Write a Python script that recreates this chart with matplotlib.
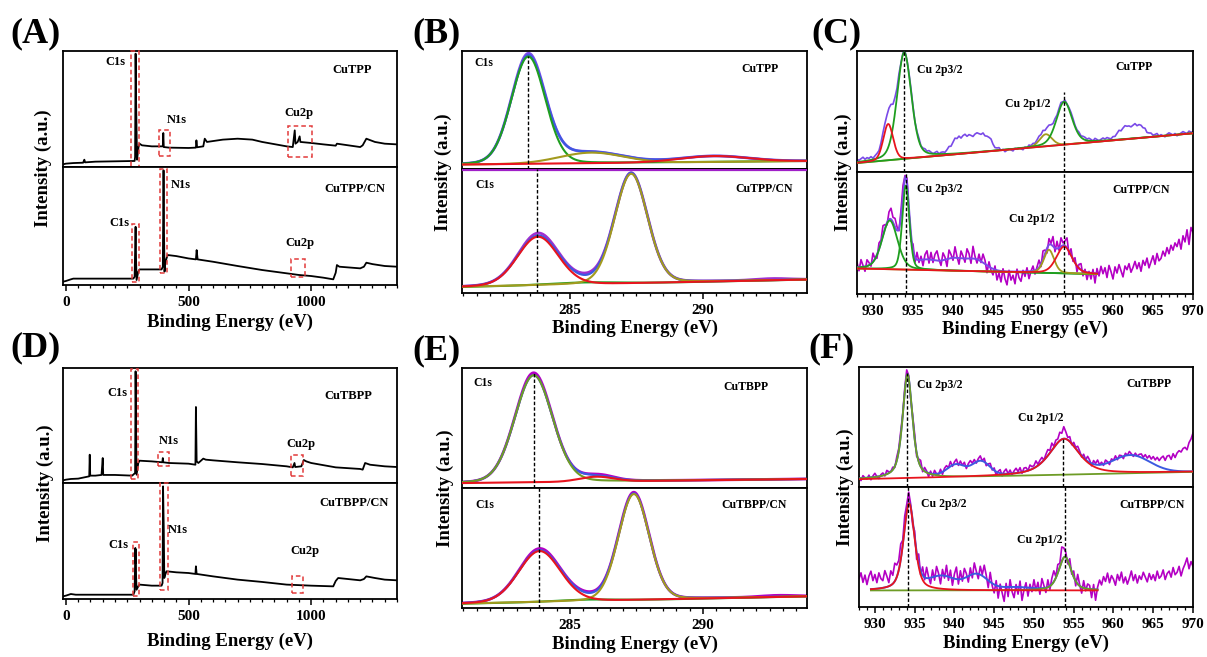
import numpy as np
import matplotlib
matplotlib.use("Agg")
import matplotlib.pyplot as plt
from matplotlib.patches import Rectangle
from matplotlib.ticker import MultipleLocator

plt.rcParams["font.family"] = "Liberation Serif"
plt.rcParams["font.weight"] = "bold"

# ---------------- survey spectra (intensity scaled to sub-panel height) ----------------
cutpp_e = [-12, 0, 30, 70, 75, 78, 120, 200, 280, 282, 284, 286, 290, 296, 300, 310, 350, 395, 397, 399,
           420, 500, 530, 532, 535, 560, 566, 575, 640, 700, 760, 800, 900, 925, 933, 936, 945, 953, 956, 1000,
           1050, 1100, 1105, 1200, 1210, 1225, 1260, 1300, 1350]
cutpp_i = [0.023, 0.029, 0.034, 0.037, 0.063, 0.040, 0.046, 0.049, 0.052, 0.086, 0.977, 0.575, 0.063, 0.172,
           0.201, 0.187, 0.178, 0.178, 0.293, 0.172, 0.167, 0.164, 0.167, 0.230, 0.170, 0.178, 0.244, 0.216,
           0.236, 0.244, 0.236, 0.216, 0.178, 0.172, 0.316, 0.201, 0.216, 0.264, 0.216, 0.207, 0.195, 0.184,
           0.201, 0.172, 0.187, 0.244, 0.216, 0.201, 0.195]

cutpp_cn_e = [-12, 0, 20, 30, 100, 200, 275, 280, 284, 286, 288, 295, 300, 350, 390, 395, 398, 400, 402, 405,
              410, 415, 450, 500, 530, 533, 537, 600, 700, 800, 900, 950, 1000, 1050, 1090, 1100, 1105, 1115,
              1200, 1215, 1225, 1250, 1300, 1350]
cutpp_cn_i = [0.028, 0.034, 0.048, 0.054, 0.054, 0.054, 0.054, 0.070, 0.493, 0.211, 0.042, 0.113, 0.132,
              0.132, 0.132, 0.155, 0.972, 0.437, 0.113, 0.183, 0.225, 0.254, 0.245, 0.225, 0.217, 0.296,
              0.217, 0.197, 0.161, 0.127, 0.099, 0.085, 0.076, 0.062, 0.048, 0.104, 0.169, 0.155, 0.141,
              0.155, 0.189, 0.177, 0.161, 0.155]

cutbpp_e = [-12, 0, 20, 50, 95, 97, 99, 120, 145, 150, 152, 200, 270, 282, 284, 286, 288, 295, 300, 350,
            393, 395, 397, 420, 500, 528, 530, 533, 540, 560, 570, 600, 700, 800, 900, 925, 932, 935, 960, 970,
            980, 1000, 1100, 1200, 1210, 1220, 1240, 1300, 1350]
cutbpp_i = [0.023, 0.029, 0.035, 0.038, 0.058, 0.246, 0.064, 0.064, 0.070, 0.217, 0.070, 0.070, 0.064,
            0.087, 0.971, 0.464, 0.072, 0.174, 0.194, 0.188, 0.180, 0.217, 0.180, 0.174, 0.168, 0.159,
            0.661, 0.188, 0.174, 0.212, 0.203, 0.197, 0.180, 0.165, 0.145, 0.136, 0.174, 0.139, 0.145,
            0.200, 0.188, 0.174, 0.136, 0.122, 0.116, 0.174, 0.159, 0.145, 0.139]

cutbpp_cn_e = [-12, 0, 20, 40, 100, 200, 275, 280, 283, 284, 285, 286, 288, 295, 300, 350, 390, 394, 396,
               399, 401, 405, 410, 450, 500, 528, 530, 533, 600, 700, 800, 900, 1000, 1090, 1100, 1110, 1200,
               1215, 1225, 1260, 1300, 1350]
cutbpp_cn_i = [0.023, 0.029, 0.043, 0.037, 0.037, 0.037, 0.037, 0.066, 0.440, 0.310, 0.425, 0.200, 0.080,
               0.109, 0.124, 0.115, 0.115, 0.138, 0.971, 0.598, 0.181, 0.210, 0.239, 0.230, 0.224, 0.216,
               0.282, 0.216, 0.195, 0.167, 0.147, 0.124, 0.115, 0.109, 0.155, 0.181, 0.161, 0.172, 0.195,
               0.181, 0.167, 0.161]

# ---------------- C1s fits: background ends, peak centre / height / FWHM / lorentz share ----------------
b_top_bg = [0.034, 0.064]
b_top_pos = [283.44, 285.8, 290.4]
b_top_height = [0.913, 0.09, 0.05]
b_top_fwhm = [1.5, 2.8, 3.0]
b_top_eta = [0.1, 0.0, 0.0]
b_top_misfit = [[283.45], [0.015], [1.2]]

b_bot_bg = [0.049, 0.108]
b_bot_pos = [283.8, 285.5, 287.3]
b_bot_height = [0.39, 0.015, 0.88]
b_bot_fwhm = [1.8, 3.0, 1.45]
b_bot_eta = [0.1, 0.0, 0.1]
b_bot_misfit = [[283.9, 285.7, 292.6], [0.02, 0.015, 0.012], [1.5, 1.0, 1.5]]

e_top_bg = [0.041, 0.075]
e_top_pos = [283.64, 286.0]
e_top_height = [0.892, 0.04]
e_top_fwhm = [1.67, 1.5]
e_top_eta = [0.1, 0.0]
e_top_misfit = [[283.64, 286.2], [0.02, 0.01], [1.2, 1.0]]

e_bot_bg = [0.036, 0.097]
e_bot_pos = [283.86, 285.6, 287.4]
e_bot_height = [0.425, 0.012, 0.883]
e_bot_fwhm = [1.85, 2.5, 1.36]
e_bot_eta = [0.1, 0.0, 0.1]
e_bot_misfit = [[283.9, 285.7, 287.4, 292.8], [0.015, 0.01, 0.01, 0.012], [1.5, 1.0, 1.2, 1.5]]

# ---------------- Cu 2p fits ----------------
c_top_bg = [0.074, 0.320]
c_top_pos = [931.9, 933.9, 951.6, 953.9]
c_top_height = [0.30, 0.88, 0.10, 0.355]
c_top_fwhm = [1.45, 2.1, 1.8, 2.3]
c_top_eta = [0.2, 0.3, 0.2, 0.3]
c_top_sat = [[940.6, 942.3, 944.0, 961.5, 963.3], [0.11, 0.12, 0.12, 0.08, 0.09], [1.8, 2.0, 1.8, 2.0, 2.0]]

c_bot_bg = [0.209, 0.163]
c_bot_pos = [932.1, 934.1, 952.0, 953.9]
c_bot_height = [0.40, 0.69, 0.19, 0.22]
c_bot_fwhm = [2.3, 1.05, 1.5, 2.3]
c_bot_eta = [0.3, 0.3, 0.3, 0.3]
c_bot_sat = [[936.8, 940.0, 942.8], [0.07, 0.09, 0.09], [3.0, 3.0, 3.0]]

f_top_bg = [0.064, 0.126]
f_top_pos = [934.1, 953.8]
f_top_height = [0.865, 0.30]
f_top_fwhm = [1.45, 4.4]
f_top_eta = [0.6, 0.6]
f_top_sat = [[940.2, 943.3, 962.2], [0.095, 0.12, 0.14], [2.6, 2.6, 5.5]]

f_bot_bg = [0.138, 0.138]
f_bot_pos = [934.3, 953.9]
f_bot_height = [0.726, 0.28]
f_bot_fwhm = [1.65, 1.86]
f_bot_eta = [0.5, 0.5]
f_bot_sat = [[938.5, 942.8, 947.5], [0.11, 0.13, 0.025], [4.0, 3.2, 4.5]]

# raw-minus-model residuals on a 0.25 eV grid from 928 to 970 eV (x 0.01)
c_top_resid = [2, 1, 2, 3, 1, 2, 1, 2, 0, 1, 1, 0, 1, 2, 1, 0, 1, 2, 0, 1, 0, 1, -1, 0,
               1, 0, 1, 2, 1, 0, 1, 2, 0, 1, 2, 1, 2, 1, 0, 1, 2, 0, 1, 1, 0, 1, 2, 0,
               1, 2, 0, 1, -1, 1, 2, 0, 1, 0, -1, 1, 2, 1, 0, 1, -1, 0, 1, 2, 0, -1, 0, 1,
               -1, 0, -2, -1, 0, -1, -2, 0, -1, 0, -1, -2, 0, -1, 1, 0, 1, 0, 1, 2, 1, 2, 0, 1,
               2, 1, 0, 1, 0, 1, 2, 0, 1, 0, 1, 2, 2, 1, 1, 2, 1, 2, 2, 1, 2, 1, 0, 2,
               1, 0, 1, 2, 1, 2, 1, 0, 1, 0, 1, 2, 0, 1, 2, 1, 1, 0, 1, 2, 0, 1, 1, 0,
               1, -1, 0, 1, 0, 1, 2, 0, 1, 0, -1, 1, 2, 1, 0, 1, -1, 0, 1, 2, 1, 0, 2, 1, 1]
c_bot_resid = [4, -3, 6, 1, -4, 5, 2, -2, 7, 0, -3, 5, 2, 8, 3, -2, 6, 9, 4, 7, 3, -2, 5, 8,
               2, 4, -3, -6, 5, -4, 6, -2, 3, -5, 4, 7, -3, 6, -2, 5, 8, 1, -4, 6, 2, -6, 7, 3,
               -2, 9, 1, -5, 6, 2, -3, 8, 4, -4, 10, 2, -3, 5, -1, 7, 3, -6, 4, -2, -5, 3, -8, -2,
               -9, 2, -6, -11, 1, -7, -3, -10, 2, -5, -8, 1, -4, 3, -6, 0, 4, -3, 2, 6, -2, 7, 3, -4,
               5, 1, 8, -3, 6, -2, 7, 2, 4, 8, -3, 5, -2, 4, -5, 3, 5, -4, 2, -6, 1, -5, 3, -8,
               4, -2, 6, 0, 5, -3, 7, 2, -4, 6, 1, 8, 3, -2, 7, 4, 9, 2, 6, 11, 5, 10, 3, 12,
               8, 14, 6, 11, 16, 9, 18, 12, 14, 20, 16, 23, 18, 25, 21, 27, 24, 30, 22, 33, 28, 38, 26, 40, 36]
f_top_resid = [1, -2, 2, 0, -1, 2, -2, 1, 3, 0, -2, 1, 2, -1, 3, 1, 0, 2, -1, 3, 2, 4, 1, 3,
               5, 2, -2, 3, 4, -3, 2, 5, -2, 3, 1, -3, 2, -2, 3, 0, -1, 3, -2, 2, 3, 0, 4, -1,
               2, 4, -1, 3, 0, 3, -2, 2, 4, 1, 3, -1, 2, 4, 0, 3, -2, 1, 3, -1, 2, -3, 1, 3,
               -2, 2, 4, 0, 3, -1, 2, 4, 1, 4, -1, 3, 3, 0, 4, 2, 2, 5, 1, 3, 4, 0, 3, 5,
               2, 6, 1, 4, 3, 7, 5, 10, 6, 2, 4, -1, 3, 1, 4, 2, -1, 3, 0, 4, 2, -2, 3, 1,
               4, 0, 2, -1, 3, 1, -2, 2, 0, 3, -1, 2, 1, -2, 2, 0, 3, 1, -1, 2, 0, 2, 3, 1,
               4, 2, 5, 3, 6, 4, 7, 5, 8, 10, 7, 11, 12, 9, 14, 11, 15, 17, 16, 19, 20, 18, 24, 27, 32]
f_bot_resid = [9, 14, 6, 12, 4, 11, 15, 7, 12, 5, 13, 8, 6, 14, 9, 3, 12, 7, 15, 10, 8, 13, 4, 10,
               6, 9, 2, -4, 5, -6, 8, -3, 7, -2, 9, 1, -5, 6, -3, 8, 2, -7, 5, -2, 9, -3, 6, -6,
               4, 10, -4, 7, -2, 8, 3, -5, 6, -3, 9, 2, -4, 7, 1, 10, 3, -6, 8, -2, -7, 4, -10, 2,
               -5, -12, 3, -8, 6, -4, -9, 2, -6, 5, -11, -2, 4, -7, 3, -3, 7, -2, 5, -5, 8, 2, -4, 6,
               -3, 5, 9, 1, 7, 3, 12, 8, 4, -3, 6, -2, 5, -4, 8, 1, -5, 6, -2, 4, 3, -7, 4, -9,
               2, 8, 4, 11, 7, 14, 6, 12, 9, 4, 13, 8, 15, 6, 11, 5, 10, 16, 8, 13, 6, 12, 9, 15,
               11, 7, 14, 9, 13, 8, 16, 10, 12, 17, 9, 14, 16, 11, 19, 13, 15, 20, 12, 18, 22, 27, 18, 24, 20]

# ---------------- colours ----------------
RED = "#e8141e"
GREEN = "#1f9e1f"
OLIVE = "#a39a1e"
OLIVE_GREEN = "#6e9c26"
BLUE = "#3c5ae0"
VIOLET = "#7a4ae8"
MAGENTA = "#b400c4"
BOX_RED = "#e23a3a"

W, H = 1207, 657
fig = plt.figure(figsize=(W / 100, H / 100), dpi=100)


def pv(x, c, h, w, eta):
    t = (x - c) / w
    return h * (eta / (1 + 4 * t ** 2) + (1 - eta) * np.exp(-4 * np.log(2) * t ** 2))


def peaks(x, pos, height, fwhm, eta=None):
    if eta is None:
        eta = [0.0] * len(pos)
    total = np.zeros_like(x)
    for c, h, w, m in zip(pos, height, fwhm, eta):
        total += pv(x, c, h, w, m)
    return total


def linear_bg(x, lo, hi, ends):
    return ends[0] + (ends[1] - ends[0]) * (x - lo) / (hi - lo)


def make_panel(x0, x1, y_top, y_split, y_bot, xlim, major, minor):
    w = (x1 - x0) / W
    top = fig.add_axes([x0 / W, 1 - y_split / H, w, (y_split - y_top) / H])
    bot = fig.add_axes([x0 / W, 1 - y_bot / H, w, (y_bot - y_split) / H])
    for ax in (top, bot):
        ax.set_xlim(*xlim)
        ax.set_ylim(0, 1)
        ax.set_yticks([])
        for s in ax.spines.values():
            s.set_linewidth(1.3)
    top.set_xticks([])
    bot.set_xticks(major)
    bot.xaxis.set_minor_locator(MultipleLocator(minor))
    bot.tick_params(axis="x", which="major", direction="out", length=4.5, width=1.1, pad=3.5, labelsize=11)
    bot.tick_params(axis="x", which="minor", direction="out", length=2.5, width=0.9)
    return top, bot


def axis_labels(x0, x1, y_top, y_bot, xlab_y, ylab_x):
    fig.text((x0 + x1) / 2 / W, 1 - xlab_y / H, "Binding Energy (eV)", fontsize=13.5,
             ha="center", va="center")
    fig.text(ylab_x / W, 1 - (y_top + y_bot) / 2 / H, "Intensity (a.u.)", fontsize=13.5,
             rotation=90, ha="center", va="center")


def red_boxes(ax, boxes):
    for lo, hi, b, t in boxes:
        ax.add_patch(Rectangle((lo, b), hi - lo, t - b, fill=False, ec=BOX_RED, lw=1.1,
                               ls=(0, (3, 2)), clip_on=False, zorder=3))


def vdash(ax, x, y0, y1):
    ax.plot([x, x], [y0, y1], color="k", lw=1.0, ls=(0, (2.5, 1.5)), zorder=7)


def c1s_sub(ax, bg, pos, height, fwhm, eta, colors, misfit, raw_color):
    lo, hi = ax.get_xlim()
    x = np.linspace(lo, hi, 900)
    base = linear_bg(x, lo, hi, bg)
    env = base + peaks(x, pos, height, fwhm, eta)
    raw = env + peaks(x, *misfit)
    ax.plot(x, raw, color=raw_color, lw=2.0, zorder=2)
    ax.plot(x, env, color=BLUE, lw=1.6, zorder=3)
    for c, h, w, m, col in zip(pos, height, fwhm, eta, colors):
        ax.plot(x, base + pv(x, c, h, w, m), color=col, lw=1.5, zorder=5 if col == RED else 4)


def cu_sub(ax, window, bg, pos, height, fwhm, eta, colors, sat, resid, raw_color, env_color=None):
    lo, hi = ax.get_xlim()
    xr = np.linspace(lo, hi, len(resid))
    raw = (linear_bg(xr, window[0], window[1], bg) + peaks(xr, pos, height, fwhm, eta)
           + peaks(xr, *sat) + np.array(resid) / 100.0)
    ax.plot(xr, raw, color=raw_color, lw=1.2, zorder=2)
    x = np.linspace(window[0], window[1], 700)
    base = linear_bg(x, window[0], window[1], bg)
    if env_color is not None:
        env = base + peaks(x, pos, height, fwhm, eta) + peaks(x, *sat)
        ax.plot(x, env, color=env_color, lw=1.4, zorder=3)
    for c, h, w, m, col in zip(pos, height, fwhm, eta, colors):
        ax.plot(x, base + pv(x, c, h, w, m), color=col, lw=1.3, zorder=5 if col == RED else 4)


SURVEY_LIM = (-12, 1350)
C1S_LIM = (280.95, 293.9)
CU_LIM = (928, 970)

# ---------------- (A) survey CuTPP ----------------
a_top, a_bot = make_panel(63, 397, 51, 167, 285, SURVEY_LIM, [0, 500, 1000], 50)
a_top.plot(cutpp_e, cutpp_i, color="k", lw=1.3)
a_bot.plot(cutpp_cn_e, cutpp_cn_i, color="k", lw=1.3)
red_boxes(a_top, [(266, 297, -0.015, 1.0), (378, 423, 0.098, 0.316), (905, 1005, 0.086, 0.353)])
red_boxes(a_bot, [(270, 299, 0.028, 0.521), (384, 412, 0.099, 0.986), (918, 973, 0.065, 0.217)])
for ax, items in ((a_top, [(201, 0.905, "C1s"), (454, 0.408, "N1s"), (948, 0.466, "Cu2p"), (1166, 0.833, "CuTPP")]),
                  (a_bot, [(470, 0.845, "N1s"), (1178, 0.817, "CuTPP/CN"), (216, 0.527, "C1s"), (952, 0.352, "Cu2p")])):
    for x, y, s in items:
        ax.text(x, y, s, fontsize=9, ha="center", va="center")
axis_labels(63, 397, 51, 285, 322, 43)

# ---------------- (D) survey CuTBPP ----------------
d_top, d_bot = make_panel(63, 397, 368, 483, 599, SURVEY_LIM, [0, 500, 1000], 50)
d_top.plot(cutbpp_e, cutbpp_i, color="k", lw=1.3)
d_bot.plot(cutbpp_cn_e, cutbpp_cn_i, color="k", lw=1.3)
red_boxes(d_top, [(265, 295, 0.038, 0.991), (377, 422, 0.145, 0.267), (918, 968, 0.064, 0.246)])
red_boxes(d_bot, [(272, 299, 0.023, 0.494), (385, 415, 0.080, 1.0), (921, 968, 0.052, 0.195)])
for ax, items in ((d_top, [(208, 0.783, "C1s"), (420, 0.362, "N1s"), (959, 0.342, "Cu2p"), (1150, 0.754, "CuTBPP")]),
                  (d_bot, [(1175, 0.828, "CuTBPP/CN"), (457, 0.598, "N1s"), (214, 0.468, "C1s"), (974, 0.411, "Cu2p")])):
    for x, y, s in items:
        ax.text(x, y, s, fontsize=9, ha="center", va="center")
axis_labels(63, 397, 368, 599, 641, 45)

# ---------------- (B) C1s CuTPP ----------------
b_top, b_bot = make_panel(462, 807, 51, 168.5, 293, C1S_LIM, [285, 290], 0.5)
c1s_sub(b_top, b_top_bg, b_top_pos, b_top_height, b_top_fwhm, b_top_eta, [GREEN, OLIVE, RED], b_top_misfit, VIOLET)
c1s_sub(b_bot, b_bot_bg, b_bot_pos, b_bot_height, b_bot_fwhm, b_bot_eta, [RED, GREEN, OLIVE], b_bot_misfit, "#a030d0")
b_bot.axhline(0.984, color="#a020c8", lw=1.6, zorder=5)
vdash(b_top, 283.44, 0, 0.96)
vdash(b_bot, 283.75, 0, 1)
b_top.text(281.75, 0.90, "C1s", fontsize=8.5, ha="center", va="center")
b_top.text(292.15, 0.844, "CuTPP", fontsize=8.5, ha="center", va="center")
b_bot.text(281.79, 0.87, "C1s", fontsize=8.5, ha="center", va="center")
b_bot.text(292.3, 0.832, "CuTPP/CN", fontsize=8.5, ha="center", va="center")
axis_labels(462, 807, 51, 293, 328, 443)

# ---------------- (E) C1s CuTBPP ----------------
e_top, e_bot = make_panel(462, 807, 368, 488, 608, C1S_LIM, [285, 290], 0.5)
c1s_sub(e_top, e_top_bg, e_top_pos, e_top_height, e_top_fwhm, e_top_eta, [OLIVE_GREEN, RED], e_top_misfit, MAGENTA)
c1s_sub(e_bot, e_bot_bg, e_bot_pos, e_bot_height, e_bot_fwhm, e_bot_eta, [RED, GREEN, OLIVE], e_bot_misfit, MAGENTA)
vdash(e_top, 283.64, 0, 0.96)
vdash(e_bot, 283.85, 0, 1)
e_top.text(281.72, 0.876, "C1s", fontsize=8.5, ha="center", va="center")
e_top.text(291.6, 0.843, "CuTBPP", fontsize=8.5, ha="center", va="center")
e_bot.text(281.8, 0.861, "C1s", fontsize=8.5, ha="center", va="center")
e_bot.text(291.9, 0.861, "CuTBPP/CN", fontsize=8.5, ha="center", va="center")
axis_labels(462, 807, 368, 608, 644, 445)

# ---------------- (C) Cu 2p CuTPP ----------------
c_top, c_bot = make_panel(857, 1193, 51, 172, 294, CU_LIM, range(930, 971, 5), 1)
cu_sub(c_top, (928, 970), c_top_bg, c_top_pos, c_top_height, c_top_fwhm, c_top_eta,
       [RED, GREEN, OLIVE, GREEN], c_top_sat, c_top_resid, VIOLET)
cu_sub(c_bot, (928, 958), c_bot_bg, c_bot_pos, c_bot_height, c_bot_fwhm, c_bot_eta,
       [GREEN, GREEN, OLIVE, RED], c_bot_sat, c_bot_resid, MAGENTA, env_color=VIOLET)
vdash(c_top, 933.9, 0, 1)
vdash(c_top, 953.9, 0, 0.66)
vdash(c_bot, 934.1, 0, 1)
vdash(c_bot, 953.9, 0, 1)
c_top.text(938.3, 0.841, "Cu 2p3/2", fontsize=8.5, ha="center", va="center")
c_top.text(962.6, 0.868, "CuTPP", fontsize=8.5, ha="center", va="center")
c_top.text(949.4, 0.562, "Cu 2p1/2", fontsize=8.5, ha="center", va="center")
c_bot.text(938.3, 0.864, "Cu 2p3/2", fontsize=8.5, ha="center", va="center")
c_bot.text(963.5, 0.851, "CuTPP/CN", fontsize=8.5, ha="center", va="center")
c_bot.text(949.8, 0.611, "Cu 2p1/2", fontsize=8.5, ha="center", va="center")
axis_labels(857, 1193, 51, 294, 329, 843)

# ---------------- (F) Cu 2p CuTBPP ----------------
f_top, f_bot = make_panel(859, 1193, 367, 487, 607, CU_LIM, range(930, 971, 5), 1)
cu_sub(f_top, (928, 970), f_top_bg, f_top_pos, f_top_height, f_top_fwhm, f_top_eta,
       [OLIVE_GREEN, RED], f_top_sat, f_top_resid, MAGENTA, env_color=BLUE)
cu_sub(f_bot, (929.5, 958), f_bot_bg, f_bot_pos, f_bot_height, f_bot_fwhm, f_bot_eta,
       [RED, OLIVE_GREEN], f_bot_sat, f_bot_resid, MAGENTA, env_color=BLUE)
vdash(f_top, 934.0, 0, 0.95)
vdash(f_top, 953.7, 0, 0.42)
vdash(f_bot, 934.2, 0, 1)
vdash(f_bot, 953.9, 0, 1)
f_top.text(938.1, 0.852, "Cu 2p3/2", fontsize=8.5, ha="center", va="center")
f_top.text(964.4, 0.858, "CuTBPP", fontsize=8.5, ha="center", va="center")
f_top.text(950.8, 0.573, "Cu 2p1/2", fontsize=8.5, ha="center", va="center")
f_bot.text(938.7, 0.862, "Cu 2p3/2", fontsize=8.5, ha="center", va="center")
f_bot.text(964.9, 0.848, "CuTBPP/CN", fontsize=8.5, ha="center", va="center")
f_bot.text(950.7, 0.558, "Cu 2p1/2", fontsize=8.5, ha="center", va="center")
axis_labels(859, 1193, 367, 607, 643, 845)

# ---------------- panel letters ----------------
for s, x, y in (("(A)", 36, 33.5), ("(B)", 437, 34), ("(C)", 836, 34),
                ("(D)", 35, 348), ("(E)", 437, 351), ("(F)", 832, 349)):
    fig.text(x / W, 1 - y / H, s, fontsize=26, ha="center", va="center")

fig.savefig("out.png", dpi=100)
